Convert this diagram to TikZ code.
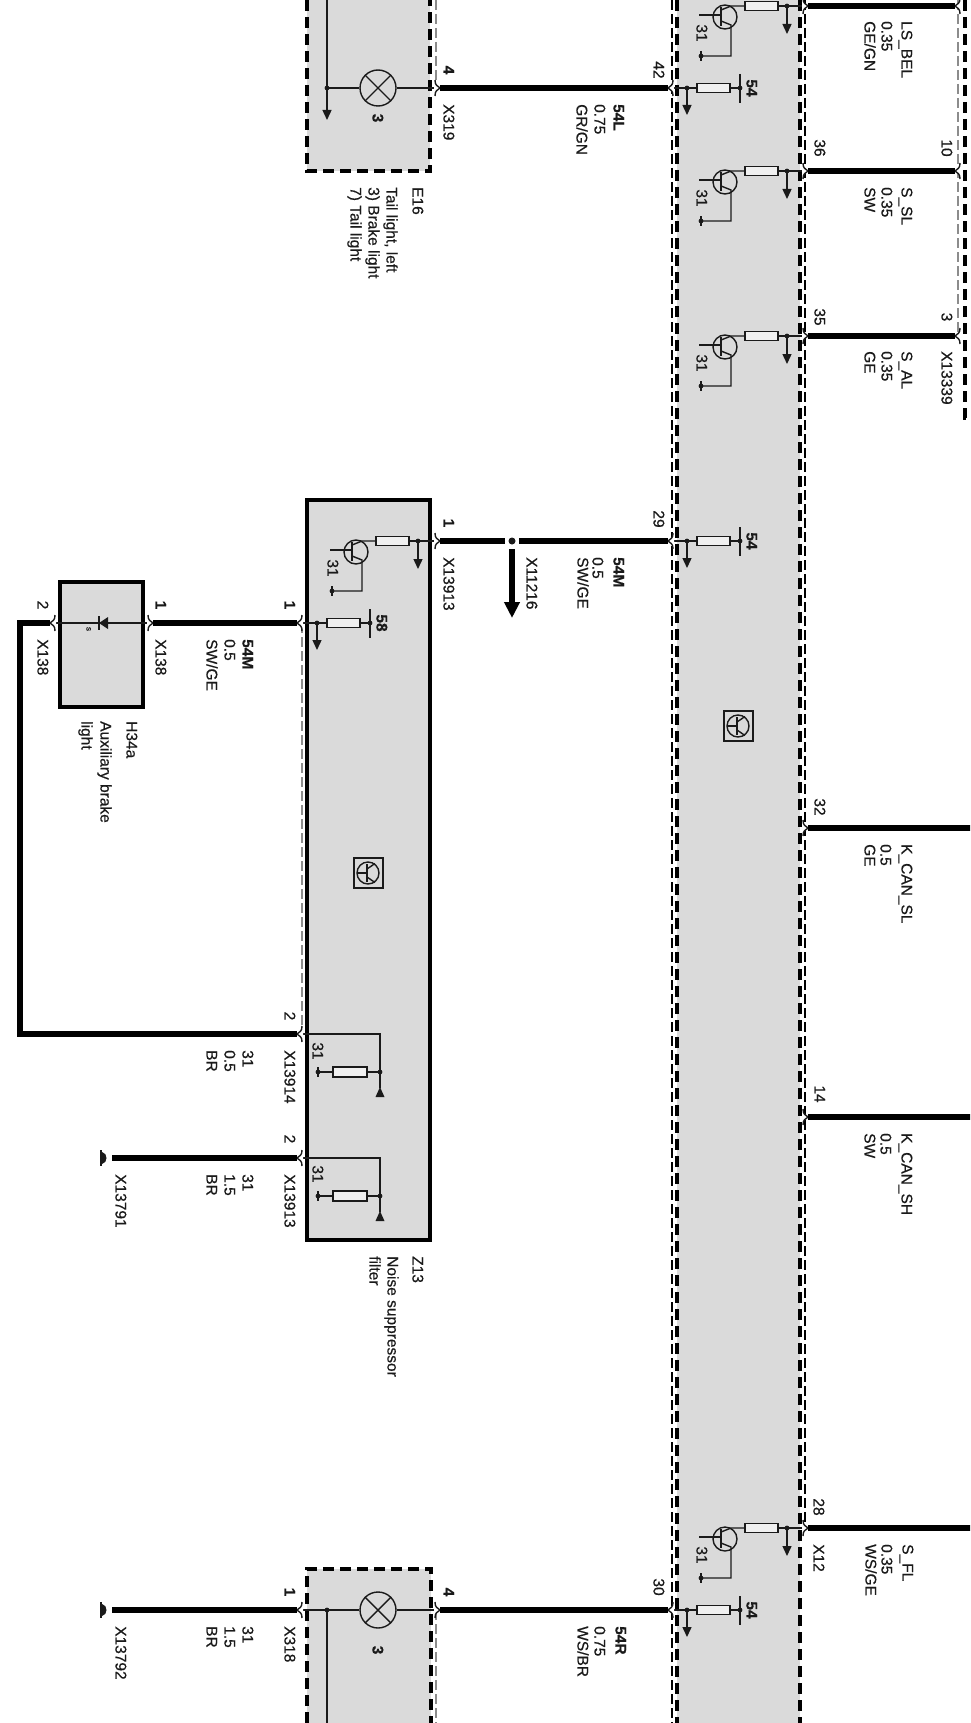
\documentclass[tikz,border=0pt]{standalone}
\usepackage{fontspec}
\setmainfont{Liberation Sans}[RawFeature={embolden=0.5}]
\usetikzlibrary{arrows.meta}
\definecolor{devgrey}{HTML}{DADADA}
\definecolor{ink}{HTML}{1A1A1A}
\definecolor{thinrule}{HTML}{8C8C8C}
\newcounter{lbno}
\tikzset{
  thin ink/.style={draw=ink,line width=1.4pt},
  wire/.style={draw=black,line width=6pt},
  dev/.style={fill=devgrey,draw=none},
  solidbox/.style={fill=devgrey,draw=black,line width=4pt},
  dashline/.style={draw=black,line width=3.5pt,dash pattern=on 11pt off 6pt},
  thindash/.style={draw=black,line width=1.7pt,dash pattern=on 10pt off 4pt},
  greydash/.style={draw=thinrule,line width=1.4pt,dash pattern=on 10pt off 4pt},
  resbox/.style={fill=black!6,draw=ink,line width=1.4pt},
  lab/.style={rotate=-90,anchor=west,inner sep=0pt,text height=11pt,text depth=0pt,text=ink,font=\fontsize{15.5}{18}\selectfont},
  labc/.style={lab,anchor=center},
  labb/.style={lab,font=\fontsize{15.5}{18}\selectfont\bfseries},
  labcb/.style={labc,font=\fontsize{15.5}{18}\selectfont\bfseries},
  small arrow/.style={thin ink,-{Triangle[length=10pt,width=9pt]}},
  big arrow/.style={wire,-{Triangle[length=16pt,width=15pt]}},
}
% text helpers: every text node gets its own name
\newcommand{\lbl}[4][lab]{\stepcounter{lbno}\node[#1] (text\thelbno) at (#2,#3) {#4};}
\newcommand{\trilbl}[8][lab]{\lbl[#1]{#2}{#5}{#6}\lbl{#3}{#5}{#7}\lbl{#4}{#5}{#8}}
% chevron pin: name, tip x, y, direction of the arms
\newcommand{\chev}[4]{%
  \coordinate (#1) at (#2,#3);
  \fill[white] (#2-1*#4,#3) .. controls (#2+3*#4,#3-2) and (#2+6*#4,#3-3) .. (#2+6*#4,#3-8)
     -- (#2+6*#4,#3+8) .. controls (#2+6*#4,#3+3) and (#2+3*#4,#3+2) .. (#2-1*#4,#3) -- cycle;
  \draw[thin ink] (#2+5*#4,#3-8) .. controls (#2+5*#4,#3-3) and (#2+3*#4,#3-2) .. (#2,#3)
     .. controls (#2+3*#4,#3+2) and (#2+5*#4,#3+3) .. (#2+5*#4,#3+8);
}
\newcommand{\jdot}[2]{\fill[ink] (#1,#2) circle[radius=2.4pt];}
\newcommand{\gndmark}[2]{%
  \draw[ink,line width=1.6pt] (#1,#2-5) -- (#1,#2+5);
  \fill[ink] (#1,#2) circle[radius=2.4pt];
}
% transistor branch: name, resistor left x, y, x of the pin
\newcommand{\trans}[4]{%
  \coordinate (#1c) at (#2+42,#3);
  \coordinate (#1a) at (#2+42,#3+28);
  \draw[thin ink] (#4,#3) -- (#2+33,#3);
  \draw[small arrow] (#1c) -- (#1a);
  \jdot{#2+42}{#3}
  \draw[resbox] (#2,#3-4.5) rectangle (#2+33,#3+4.5);
  \draw[thin ink] (#2,#3) -- (#2-14,#3) -- (#2-24,#3+4);
  \draw[thin ink] (#2-20,#3+11) circle[radius=12pt];
  \draw[ink,line width=1.4pt] (#2-24,#3+1) -- (#2-24,#3+20);
  \draw[thin ink] (#2-46,#3+9) -- (#2-24,#3+9);
  \draw[thin ink] (#2-24,#3+15) -- (#2-14,#3+19) -- (#2-14,#3+50) -- (#2-44,#3+50);
  \gndmark{#2-44}{#3+50}
  \lbl[labc]{#2-43}{#3+27}{31}
}
% supply branch: resistor left x, y, x of the pin, supply label
\newcommand{\fuse}[4]{%
  \draw[thin ink] (#3,#2) -- (#1+43,#2);
  \draw[small arrow] (#1-10,#2) -- (#1-10,#2+27);
  \jdot{#1-10}{#2}
  \draw[resbox] (#1,#2-4.5) rectangle (#1+33,#2+4.5);
  \draw[ink,line width=1.4pt] (#1+43,#2-14) -- (#1+43,#2+15);
  \jdot{#1+43}{#2}
  \lbl[labcb]{#1+55}{#2}{#4}
}
% ground branch of the filter: pin y, resistor y
\newcommand{\gndres}[2]{%
  \draw[thin ink] (302,#1) -- (380,#1) -- (380,#2+16);
  \fill[ink] (380,#2+15) -- (375.5,#2+25) -- (384.5,#2+25) -- cycle;
  \jdot{380}{#2}
  \draw[thin ink] (318,#2) -- (380,#2);
  \draw[resbox] (333,#2-5) rectangle (367,#2+5);
  \gndmark{318}{#2}
}
% end ground of a wire
\newcommand{\wiregnd}[2]{%
  \fill[ink] (100,#2-8) rectangle (102,#2+8);
  \fill[ink] (102,#2-6) .. controls (108,#2-5) and (108,#2+5) .. (102,#2+6) -- cycle;
  \coordinate (#1) at (112,#2);
}
\begin{document}
\begin{tikzpicture}[x=1pt,y=-1pt]
\useasboundingbox (0,0) rectangle (970,1723);
\clip (0,0) rectangle (970,1723);
\fill[white] (0,0) rectangle (970,1723);

% ---- grey devices
\fill[dev] (677,-5) rectangle (800,1730);
\fill[dev] (307,-5) rectangle (430,171);
\fill[dev] (307,1569) rectangle (431,1730);
\draw[solidbox] (307,500) rectangle (430,1240);
\draw[solidbox] (60,582) rectangle (143,707);

% ---- device outlines
\draw[dashline] (677,0) -- (677,1723);
\draw[dashline] (800,0) -- (800,1723);
\draw[thindash] (672,0) -- (672,1723);
\draw[thindash] (805,0) -- (805,1528);
\draw[dashline] (307,0) -- (307,171) -- (430,171) -- (430,0);
\draw[dashline] (307,1723) -- (307,1569) -- (431,1569) -- (431,1723);
\draw[dashline] (965,0) -- (965,418) -- (972,418);
\draw[greydash] (958,0) -- (958,336);
\draw[greydash] (436,0) -- (436,88);
\draw[greydash] (436,1610) -- (436,1723);
\draw[greydash] (302,623) -- (302,1034);

% ---- inner circuits, bus device
\trans{ta}{745}{6}{805}
\trans{tb}{745}{171}{805}
\trans{tc}{745}{336}{805}
\trans{td}{745}{1528}{805}
\fuse{697}{88}{672}{54}
\fuse{697}{541}{672}{54}
\fuse{697}{1610}{672}{54}
% transistor symbol
\draw[ink,line width=1.2pt] (724,711) rectangle (753,741);
\draw[thin ink] (738,726) circle[radius=11pt];
\draw[thin ink] (727,726) -- (737,726);
\draw[ink,line width=1.4pt] (737,717) -- (737,735);
\draw[thin ink] (737,722) -- (745,716.5);
\draw[thin ink] (737,730) -- (745,735.5);

% ---- lamps
\node[circle,draw=ink,line width=1.4pt,minimum size=36pt,inner sep=0pt] (lampa) at (378,88) {};
\node[circle,draw=ink,line width=1.4pt,minimum size=36pt,inner sep=0pt] (lampb) at (378,1610) {};
\foreach \l in {lampa,lampb}{
  \draw[thin ink] (\l.45) -- (\l.225) (\l.135) -- (\l.315);
}
\coordinate (lla) at (327,88);
\coordinate (rla) at (436,88);
\coordinate (rlb) at (436,1610);
\coordinate (fla) at (302,1610);
\draw[thin ink] (lla) -- (lampa) (lampa) -- (rla);
\draw[thin ink] (fla) -- (lampb) (lampb) -- (rlb);
\draw[small arrow] (327,-5) -- (327,120);
\draw[thin ink] (327,1610) -- (327,1730);
\jdot{327}{88}
\jdot{327}{1610}
\lbl[labcb]{378}{118}{3}
\lbl[labcb]{378}{1650}{3}

% ---- noise suppressor filter
\trans{te}{376}{541}{436}
\fuse{327}{623}{302}{58}
\gndres{1034}{1072}
\gndres{1158}{1196}
% filter transistor symbol
\draw[ink,line width=1.2pt] (354,858) rectangle (383,888);
\draw[thin ink] (368,873) circle[radius=11pt];
\draw[thin ink] (357,873) -- (367,873);
\draw[ink,line width=1.4pt] (367,864) -- (367,882);
\draw[thin ink] (367,869) -- (375,863.5);
\draw[thin ink] (367,877) -- (375,882.5);

% ---- auxiliary brake light
\draw[thin ink] (53,623) -- (150,623);
\fill[ink] (99,623) -- (108,617) -- (108,629) -- cycle;
\draw[ink,line width=1.4pt] (99,616) -- (99,630);
\lbl[labc,font=\fontsize{8}{9}\selectfont]{92}{629}{s}

% ---- pins
\chev{pa}{440}{88}{-1}
\chev{pb}{668}{88}{1}
\chev{pc}{440}{541}{-1}
\chev{pd}{668}{541}{1}
\chev{pe}{297}{623}{1}
\chev{pf}{153}{623}{-1}
\chev{pg}{50}{623}{1}
\chev{ph}{297}{1034}{1}
\chev{pi}{297}{1158}{1}
\chev{pj}{297}{1610}{1}
\chev{pk}{440}{1610}{-1}
\chev{pl}{668}{1610}{1}
\chev{pm}{808}{6}{-1}
\chev{pn}{955}{6}{1}
\chev{po}{808}{171}{-1}
\chev{pp}{955}{171}{1}
\chev{pq}{808}{336}{-1}
\chev{pr}{955}{336}{1}
\chev{ps}{808}{828}{-1}
\chev{pt}{808}{1117}{-1}
\chev{pu}{808}{1528}{-1}
\coordinate (ea) at (975,828);
\coordinate (eb) at (975,1117);
\coordinate (ec) at (975,1528);
\coordinate (spliceend) at (512,618);
\coordinate (cora) at (20,623);
\coordinate (corb) at (20,1034);
\wiregnd{ga}{1158}
\wiregnd{gb}{1610}

% ---- wires
\draw[wire] (pa) -- (pb);
\draw[wire] (pc) -- (pd);
\draw[wire] (pf) -- (pe);
\draw[wire,line join=miter] (pg) -- (cora) -- (corb) -- (ph);
\draw[wire] (ga) -- (pi);
\draw[wire] (gb) -- (pj);
\draw[wire] (pk) -- (pl);
\draw[wire] (pm) -- (pn);
\draw[wire] (po) -- (pp);
\draw[wire] (pq) -- (pr);
\draw[wire] (ps) -- (ea);
\draw[wire] (pt) -- (eb);
\draw[wire] (pu) -- (ec);
% splice
\coordinate (splice) at (512,541);
\fill[white] (505,537) rectangle (519,550);
\draw[big arrow] (512,549) -- (spliceend);
\fill[ink] (splice) circle[radius=3.5pt];

% ---- labels: bus device right
\trilbl{907}{887}{870}{21}{LS\_BEL}{0.35}{GE/GN}
\trilbl{907}{887}{870}{187}{S\_SL}{0.35}{SW}
\trilbl{907}{887}{870}{351}{S\_AL}{0.35}{GE}
\trilbl{907}{886}{870}{844}{K\_CAN\_SL}{0.5}{GE}
\trilbl{907}{886}{870}{1133}{K\_CAN\_SH}{0.5}{SW}
\trilbl{908}{887}{871}{1544}{S\_FL}{0.35}{WS/GE}
\lbl[labc]{820}{148}{36}
\lbl[labc]{947}{148}{10}
\lbl[labc]{820}{317}{35}
\lbl[labc]{947}{317}{3}
\lbl{947}{351}{X13339}
\lbl[labc]{820}{807}{32}
\lbl[labc]{820}{1094}{14}
\lbl[labc]{819}{1507}{28}
\lbl{819}{1544}{X12}
% left of bus
\lbl[labc]{659}{70}{42}
\lbl[labc]{659}{519}{29}
\lbl[labc]{659}{1587}{30}
\trilbl[labb]{619}{600}{582}{104}{54L}{0.75}{GR/GN}
\trilbl[labb]{619}{598}{583}{557}{54M}{0.5}{SW/GE}
\trilbl[labb]{621}{600}{583}{1626}{54R}{0.75}{WS/BR}
% lamp labels
\lbl[labcb]{449}{70}{4}
\lbl{449}{104}{X319}
\lbl{418}{187}{E16}
\lbl{392}{187}{Tail light, left}
\lbl{374}{187}{3) Brake light}
\lbl{356}{187}{7) Tail light}
\lbl[labcb]{449}{523}{1}
\lbl{449}{557}{X13913}
\lbl{532}{557}{X11216}
\lbl[labcb]{449}{1592}{4}
\lbl[labcb]{290}{1592}{1}
\lbl{290}{1626}{X318}
\trilbl{248}{230}{212}{1626}{31}{1.5}{BR}
\lbl{121}{1626}{X13792}
% filter left
\lbl[labcb]{290}{605}{1}
\trilbl[labb]{248}{230}{212}{639}{54M}{0.5}{SW/GE}
\lbl[labcb]{161}{605}{1}
\lbl{161}{639}{X138}
\lbl[labc]{43}{605}{2}
\lbl{43}{639}{X138}
\lbl{132}{721}{H34a}
\lbl{106}{721}{Auxiliary brake}
\lbl{87}{721}{light}
\lbl[labc]{290}{1016}{2}
\lbl{290}{1050}{X13914}
\trilbl{248}{230}{212}{1050}{31}{0.5}{BR}
\lbl[labc]{318}{1051}{31}
\lbl[labc]{290}{1139}{2}
\lbl{290}{1174}{X13913}
\trilbl{248}{230}{212}{1174}{31}{1.5}{BR}
\lbl[labc]{318}{1174}{31}
\lbl{121}{1174}{X13791}
\lbl{418}{1256}{Z13}
\lbl{393}{1256}{Noise suppressor}
\lbl{375}{1256}{filter}
\end{tikzpicture}
\end{document}
